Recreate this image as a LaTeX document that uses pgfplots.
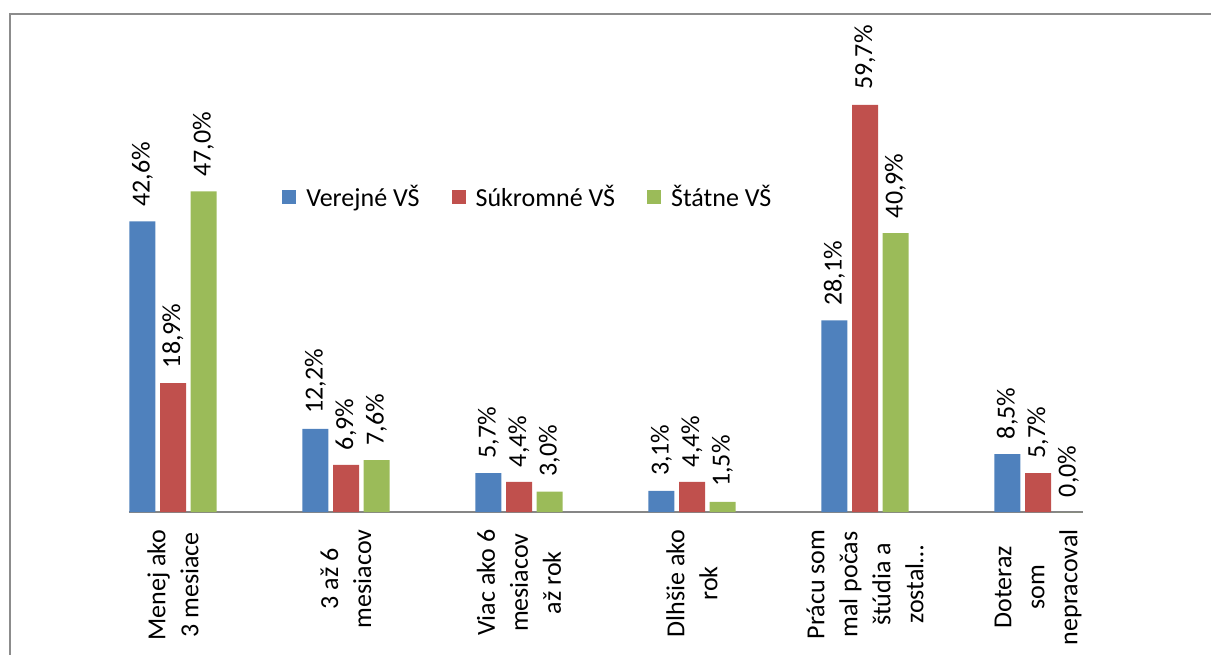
\documentclass[border=0pt]{standalone}
\usepackage{pgfplots}
\pgfplotsset{compat=1.18}
\usepackage{fontspec}
\setmainfont{Carlito}
\definecolor{verejne}{HTML}{4F81BD}
\definecolor{sukromne}{HTML}{C0504D}
\definecolor{statne}{HTML}{9BBB59}
\definecolor{ramik}{RGB}{140,140,140}
\definecolor{osa}{RGB}{134,134,134}
\begin{document}
\begin{tikzpicture}[font=\fontsize{19.5}{24.75}\selectfont]
% 1 px = 0.75 pt, picture 1211 x 654 px
\useasboundingbox (0,0) rectangle (908.25pt,490.5pt);
\clip (0,0) rectangle (908.25pt,490.5pt);
\draw[ramik, line width=1.3pt] (7.5pt,-10pt) rectangle (920pt,480pt);
\begin{axis}[
    at={(129.75pt,106.5pt)}, anchor=origin,
    x=129.75pt, y=5.115pt,
    xmin=-0.255, xmax=5.26, ymin=0, ymax=70,
    enlargelimits=false, clip=false,
    axis x line=bottom, axis y line=none,
    x axis line style={-, draw=osa, line width=1.3pt},
    xtick={0,1,2,3,4,5}, ytick=\empty,
    major tick length=0pt,
    xticklabels={{Menej ako\\3 mesiace},{3 až 6\\mesiacov},{Viac ako 6\\mesiacov\\až rok},{Dlhšie ako\\rok},{Prácu som\\mal počas\\štúdia a\\zostal…},{Doteraz\\som\\nepracoval}},
    xticklabel style={rotate=90, anchor=east, align=center, inner sep=0pt},
    xticklabel shift=13pt,
    ybar, bar width=19.5pt,
    nodes near coords={\pgfmathprintnumber[fixed,fixed zerofill,precision=1,use comma,assume math mode=true]{\pgfplotspointmeta}\%},
    every node near coord/.append style={rotate=90, anchor=west, inner xsep=11pt, inner ysep=0pt, black},
    legend style={at={(rel axis cs:0.1605,0.66)}, anchor=west, draw=none, fill=none,
        legend columns=3, inner sep=0pt,
        /tikz/every odd column/.append style={column sep=5.5pt},
        /tikz/every even column/.append style={column sep=22pt}},
    legend image code/.code={\draw[#1,draw=none] (0pt,-5.25pt) rectangle (10.5pt,5.25pt);},
]
\addplot[fill=verejne, draw=none, bar shift=-22.9pt] coordinates {(0,42.6) (1,12.2) (2,5.7) (3,3.1) (4,28.1) (5,8.5)};
\addplot[fill=sukromne, draw=none, bar shift=0pt] coordinates {(0,18.9) (1,6.9) (2,4.4) (3,4.4) (4,59.7) (5,5.7)};
\addplot[fill=statne, draw=none, bar shift=22.9pt] coordinates {(0,47.0) (1,7.6) (2,3.0) (3,1.5) (4,40.9) (5,0.0)};
\legend{Verejné VŠ, Súkromné VŠ, Štátne VŠ}
\end{axis}
\end{tikzpicture}
\end{document}
